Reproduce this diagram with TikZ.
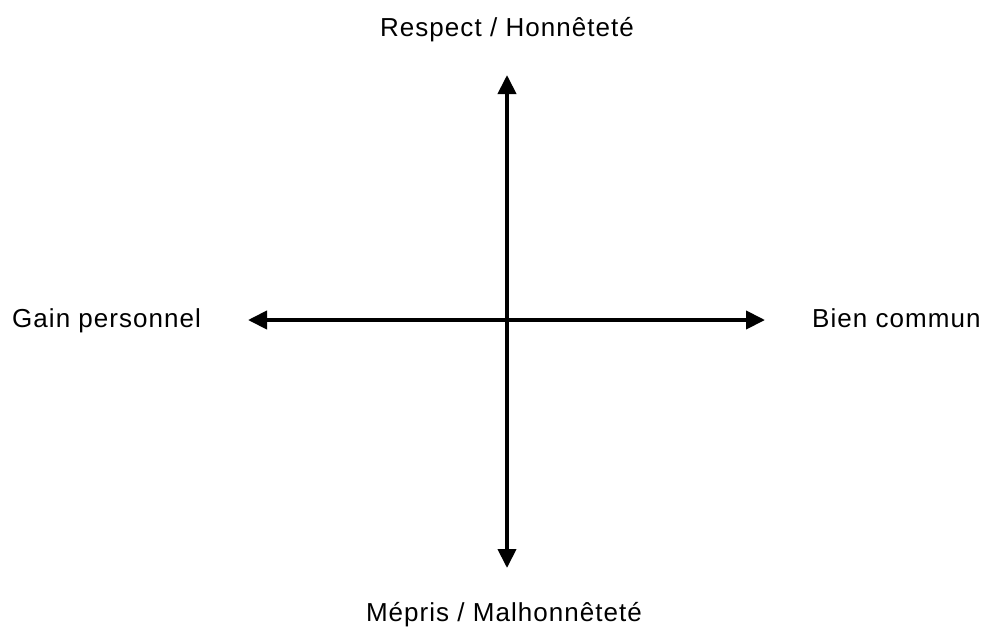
\documentclass[tikz,border=0pt]{standalone}
\usepackage{fontspec}
\newfontfamily\lblfont{Liberation Sans}[LetterSpace=4]
\usetikzlibrary{arrows.meta}
\tikzset{
  axisline/.style={line width=4pt, {Triangle[length=19pt,width=18pt]}-{Triangle[length=19pt,width=18pt]}},
  lbl/.style={inner sep=0pt, font=\lblfont\fontsize{26pt}{30pt}\selectfont}
}
\begin{document}
\begin{tikzpicture}[x=1pt,y=-1pt]
\useasboundingbox (0,0) rectangle (986,630);
\coordinate (top) at (507,75);
\coordinate (bot) at (507,568);
\coordinate (lft) at (248,320);
\coordinate (rgt) at (765,320);
\draw[axisline] (bot) -- (top);
\draw[axisline] (lft) -- (rgt);
\node[lbl, anchor=base] (resp) at (507,36) {Respect / Honnêteté};
\node[lbl, anchor=base] (mepr) at (504,621) {Mépris / Malhonnêteté};
\node[lbl, anchor=base west] (gain) at (12,327) {Gain personnel};
\node[lbl, anchor=base west] (bien) at (812,327) {Bien commun};
\end{tikzpicture}
\end{document}
